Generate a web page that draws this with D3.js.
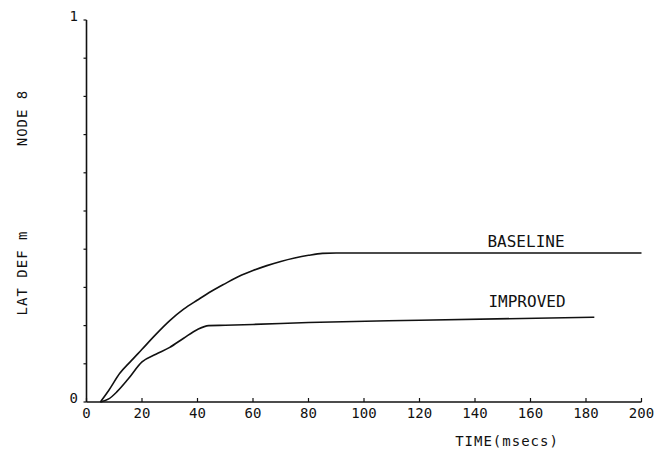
<!DOCTYPE html>
<html>
	<head>
		<script src="https://d3js.org/d3.v7.min.js"></script>
		<style>
			body { margin: 0; background: #fff; }
			text { font-family: "DejaVu Sans Mono", monospace; fill: #111; }
		</style>
	</head>
	<body>
		<svg id="chart" width="672" height="451"></svg>
		<script>
			// values (time in msecs, lateral deflection)
			var baselineTime = [5, 8, 12, 16, 20, 25, 30, 35, 40, 45, 50, 55, 60, 65, 70, 75, 80, 85, 90, 200];
			var baselineValue = [0, 0.03, 0.075, 0.107, 0.138, 0.177, 0.213, 0.243, 0.267, 0.29, 0.31, 0.329, 0.344, 0.357, 0.368, 0.377, 0.384, 0.389, 0.39, 0.39];
			var improvedTime = [5, 8, 11, 15, 20, 25, 30, 35, 40, 44, 50, 60, 80, 120, 183];
			var improvedValue = [0, 0.008, 0.027, 0.06, 0.105, 0.125, 0.143, 0.167, 0.19, 0.2, 0.201, 0.203, 0.208, 0.214, 0.222];
			var xTicks = [0, 20, 40, 60, 80, 100, 120, 140, 160, 180, 200];
			var yTicks = [0, 0.1, 0.2, 0.3, 0.4, 0.5, 0.6, 0.7, 0.8, 0.9, 1];

			var svg = d3.select('#chart');

			var x = d3.scaleLinear().domain([0, 200]).range([86.5, 641.5]);
			var y = d3.scaleLinear().domain([0, 1]).range([402, 20]);

			var g = svg.append('g');

			// axes lines
			g.append('line')
				.attr('x1', x(0)).attr('x2', x(0))
				.attr('y1', y(0)).attr('y2', y(1))
				.attr('stroke', '#111').attr('stroke-width', 1.6);
			g.append('line')
				.attr('x1', x(0)).attr('x2', x(200))
				.attr('y1', y(0)).attr('y2', y(0))
				.attr('stroke', '#111').attr('stroke-width', 1.6);

			// y ticks pointing left
			g.selectAll('.ytick')
				.data(yTicks)
				.enter().append('line')
				.attr('x1', x(0) - 3).attr('x2', x(0))
				.attr('y1', function(d) { return y(d); })
				.attr('y2', function(d) { return y(d); })
				.attr('stroke', '#111').attr('stroke-width', 1.2);

			// x ticks pointing up
			g.selectAll('.xtick')
				.data(xTicks)
				.enter().append('line')
				.attr('x1', function(d) { return x(d); })
				.attr('x2', function(d) { return x(d); })
				.attr('y1', y(0)).attr('y2', y(0) - 4)
				.attr('stroke', '#111').attr('stroke-width', 1.2);

			g.selectAll('.xlabel')
				.data(xTicks)
				.enter().append('text')
				.attr('x', function(d) { return x(d); })
				.attr('y', 418)
				.attr('text-anchor', 'middle')
				.attr('font-size', 14)
				.text(function(d) { return d; });

			g.selectAll('.ylabel')
				.data([0, 1])
				.enter().append('text')
				.attr('x', 78)
				.attr('y', function(d) { return y(d) + 1; })
				.attr('text-anchor', 'end')
				.attr('font-size', 14)
				.text(function(d) { return d; });

			// axis titles
			g.append('text')
				.attr('x', 507).attr('y', 446)
				.attr('text-anchor', 'middle')
				.attr('font-size', 14)
				.attr('letter-spacing', 1)
				.text('TIME(msecs)');
			g.append('text')
				.attr('transform', 'translate(27,118) rotate(-90)')
				.attr('text-anchor', 'middle')
				.attr('font-size', 14)
				.attr('letter-spacing', 1)
				.text('NODE 8');
			g.append('text')
				.attr('transform', 'translate(27,273) rotate(-90)')
				.attr('text-anchor', 'middle')
				.attr('font-size', 14)
				.attr('letter-spacing', 1)
				.text('LAT DEF m');

			var line = d3.line()
				.x(function(d) { return x(d[0]); })
				.y(function(d) { return y(d[1]); })
				.curve(d3.curveMonotoneX);

			var baseline = d3.zip(baselineTime, baselineValue);
			var improved = d3.zip(improvedTime, improvedValue);

			g.append('path')
				.datum(baseline)
				.attr('d', line)
				.attr('fill', 'none')
				.attr('stroke', '#111')
				.attr('stroke-width', 1.6);
			g.append('path')
				.datum(improved)
				.attr('d', line)
				.attr('fill', 'none')
				.attr('stroke', '#111')
				.attr('stroke-width', 1.6);

			// curve labels
			g.append('text')
				.attr('x', 526).attr('y', 247)
				.attr('text-anchor', 'middle')
				.attr('font-size', 16)
				.text('BASELINE');
			g.append('text')
				.attr('x', 527).attr('y', 307)
				.attr('text-anchor', 'middle')
				.attr('font-size', 16)
				.text('IMPROVED');
		</script>
	</body>
</html>
